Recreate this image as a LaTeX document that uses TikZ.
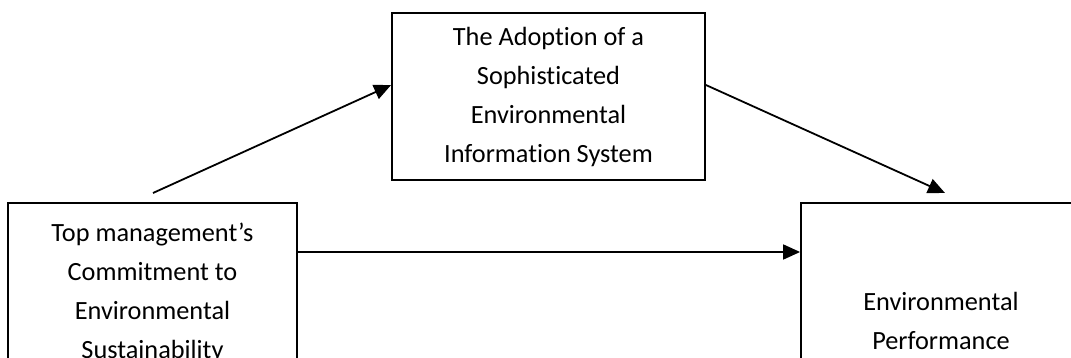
\documentclass[tikz,border=0pt]{standalone}
\usepackage{fontspec}
\setmainfont[RawFeature={-liga;-clig;-calt;-dlig}]{Carlito}
\usetikzlibrary{arrows.meta,calc}
\begin{document}
\begin{tikzpicture}[x=1pt,y=-1pt,
  box/.style={draw=black,line width=1.8pt,align=center,inner sep=0pt,
    font=\fontsize{26.3pt}{39pt}\selectfont},
  link/.style={line width=1.8pt,-{Triangle[length=17pt,width=15pt]}}]
\useasboundingbox (0,0) rectangle (1071,358);
\clip (0,0) rectangle (1071,358);
\node[box,minimum width=313pt,minimum height=167pt] (top) at (548.5,96.5)
  {The Adoption of a\\Sophisticated\\Environmental\\Information System};
\node[box,minimum width=289pt,minimum height=180pt] (left) at (152.5,293)
  {Top management’s\\Commitment to\\Environmental\\Sustainability};
\node[box,minimum width=280pt,minimum height=236pt] (right) at (941,321)
  {Environmental\\Performance};
\coordinate (s1) at (153,193);
\coordinate (e2) at (945,193);
\coordinate (hy) at (0,252);
\draw[link] (s1) -- ([yshift=11.5pt]top.west);
\draw[link] ([yshift=11.5pt]top.east) -- (e2);
\draw[link] (left.east |- hy) -- (right.west |- hy);
\end{tikzpicture}
\end{document}
